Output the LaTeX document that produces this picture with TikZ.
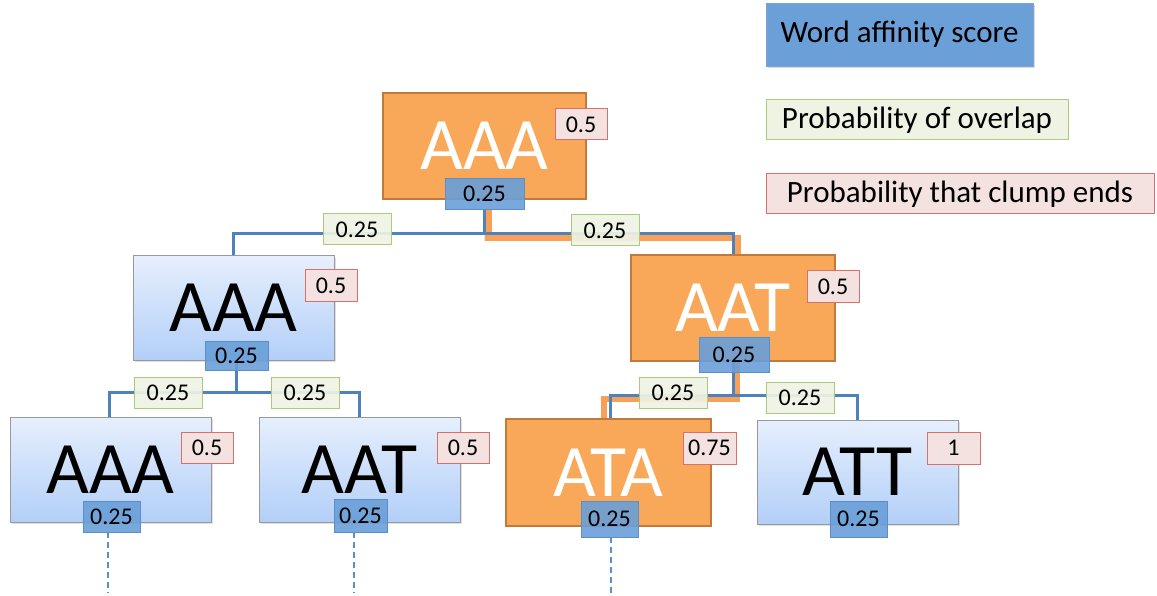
\documentclass[tikz,border=0pt]{standalone}
\usepackage{fontspec}
\setmainfont{Carlito}
\usetikzlibrary{shadows}
\pgfdeclarelayer{bg}
\pgfsetlayers{bg,main}
\definecolor{orfill}{HTML}{F8A858}
\definecolor{ordraw}{HTML}{C07B3C}
\definecolor{hlcol}{HTML}{F79646}
\definecolor{scfill}{HTML}{6A9FD8}
\definecolor{scdraw}{HTML}{5B8FCB}
\definecolor{grfill}{HTML}{EEF3E4}
\definecolor{grdraw}{HTML}{A9CB7A}
\definecolor{rdfill}{HTML}{F3E2E0}
\definecolor{rddraw}{HTML}{D9706C}
\definecolor{edgecol}{HTML}{4F81BD}
\definecolor{lbtop}{HTML}{E6EFFD}
\definecolor{lbbot}{HTML}{B3CFF8}
\tikzset{
  orbox/.style={rectangle, inner sep=0pt, fill=orfill, draw=ordraw, line width=2.5pt, text=white, font=\fontsize{74}{74}\selectfont},
  lbbox/.style={rectangle, inner sep=0pt, top color=lbtop, bottom color=lbbot, draw=black!40, line width=1pt, text=black, font=\fontsize{74}{74}\selectfont, drop shadow={opacity=0.25, shadow xshift=1.5pt, shadow yshift=-2pt}},
  score/.style={rectangle, inner sep=0pt, fill=scfill, fill opacity=0.9, text opacity=1, draw=scdraw, line width=0.8pt, font=\fontsize{24}{24}\selectfont},
  ovl/.style={rectangle, inner sep=0pt, fill=grfill, fill opacity=0.92, text opacity=1, draw=grdraw, line width=1pt, font=\fontsize{24}{24}\selectfont},
  endp/.style={rectangle, inner sep=0pt, fill=rdfill, draw=rddraw, line width=1pt, font=\fontsize{24}{24}\selectfont},
  legendfont/.style={font=\fontsize{31}{31}\selectfont},
  edge/.style={draw=edgecol, line width=3pt},
  hl/.style={draw=hlcol, line width=6pt, opacity=0.9},
  dashedge/.style={draw=scdraw, line width=2.5pt, dash pattern=on 6pt off 4pt},
}
\begin{document}
\begin{tikzpicture}[x=1pt,y=-1pt]
\useasboundingbox (0,0) rectangle (1157,596);
% legend
\node[score, fill opacity=1, draw=scdraw!80, minimum width=267pt, minimum height=63pt, legendfont, drop shadow={opacity=0.3, shadow xshift=1.5pt, shadow yshift=-2.5pt}] (lg1) at (899.5,34.5) {Word affinity score};
\node[ovl, fill opacity=1, minimum width=302pt, minimum height=40pt, legendfont] (lg2) at (917,120) {Probability of overlap};
\node[endp, minimum width=388pt, minimum height=40pt, legendfont] (lg3) at (960,194) {Probability that clump ends};
% level 0
\node[orbox, minimum width=203pt, minimum height=106pt] (r0) at (484.5,146) {AAA};
\node[endp, minimum width=52pt, minimum height=31pt] (r0p) at (581,124.5) {0.5};
\node[score, minimum width=79pt, minimum height=31pt] (s0) at (484.5,193.5) {0.25};
% level 1
\node[lbbox, minimum width=201pt, minimum height=104pt] (l1) at (233.5,308) {AAA};
\node[endp, minimum width=52pt, minimum height=31pt] (l1p) at (331,285.5) {0.5};
\node[score, minimum width=63pt, minimum height=29pt] (s1l) at (236.5,355.5) {0.25};
\node[orbox, minimum width=204pt, minimum height=106pt] (r1) at (733,308) {AAT};
\node[endp, minimum width=52pt, minimum height=31pt] (r1p) at (833,286.5) {0.5};
\node[score, minimum width=70pt, minimum height=35pt] (s1r) at (734,355) {0.25};
% level 2
\node[lbbox, minimum width=201pt, minimum height=105pt] (a3) at (110.5,469.5) {AAA};
\node[endp, minimum width=52pt, minimum height=31pt] (a3p) at (207,447.5) {0.5};
\node[score, minimum width=57pt, minimum height=31pt] (a3s) at (111.5,516.5) {0.25};
\node[lbbox, minimum width=201pt, minimum height=105pt] (b3) at (359.5,469.5) {AAT};
\node[endp, minimum width=52pt, minimum height=31pt] (b3p) at (463,447.5) {0.5};
\node[score, minimum width=53pt, minimum height=33pt] (b3s) at (360.5,515.5) {0.25};
\node[orbox, minimum width=205pt, minimum height=107pt] (c3) at (608.5,472.5) {ATA};
\node[endp, minimum width=53pt, minimum height=32pt] (c3p) at (709.5,448) {0.75};
\node[score, minimum width=57pt, minimum height=36pt] (c3s) at (609.5,519) {0.25};
\node[lbbox, minimum width=201pt, minimum height=104pt] (d3) at (857.5,472) {ATT};
\node[endp, minimum width=53pt, minimum height=32pt] (d3p) at (953.5,448) {1};
\node[score, minimum width=57pt, minimum height=36pt] (d3s) at (858.5,519) {0.25};
% junctions
\coordinate (j0) at (484.5,234);
\coordinate (j1) at (236.5,392);
\coordinate (j2) at (733,395);
% overlap labels
\node[ovl, minimum width=68pt, minimum height=31pt] (g01) at (357,229.5) {0.25};
\node[ovl, minimum width=68pt, minimum height=31pt] (g02) at (605,230.5) {0.25};
\node[ovl, minimum width=68pt, minimum height=31pt] (g11) at (168,392.5) {0.25};
\node[ovl, minimum width=68pt, minimum height=31pt] (g12) at (305,392.5) {0.25};
\node[ovl, minimum width=68pt, minimum height=31pt] (g13) at (673,392.5) {0.25};
\node[ovl, minimum width=68pt, minimum height=31pt] (g14) at (800,397.5) {0.25};
% dashed ends
\coordinate (e1) at (108,593);
\coordinate (e2) at (354,593);
\coordinate (e3) at (611,593);
\begin{pgfonlayer}{bg}
\draw[hl] ([xshift=4pt]s0.south) |- ([yshift=-4pt]j0) -| ([xshift=5pt]r1.north);
\draw[hl] ([xshift=4pt]r1.south) |- ([yshift=-4pt]j2) -| ([xshift=-5pt]c3.north);
\draw[edge] (s0.south) -- (j0) -| (l1.north);
\draw[edge] (j0) -| (r1.north);
\draw[edge] (l1.south -| j1) -- (j1) -| ([xshift=-1.5pt]a3.north);
\draw[edge] (j1) -| (b3.north);
\draw[edge] (r1.south) -- (j2) -| ([xshift=1.5pt]c3.north);
\draw[edge] (j2) -| (d3.north);
\end{pgfonlayer}
\draw[dashedge] (a3s.south -| e1) -- (e1);
\draw[dashedge] (b3s.south -| e2) -- (e2);
\draw[dashedge] (c3s.south -| e3) -- (e3);
\end{tikzpicture}
\end{document}
